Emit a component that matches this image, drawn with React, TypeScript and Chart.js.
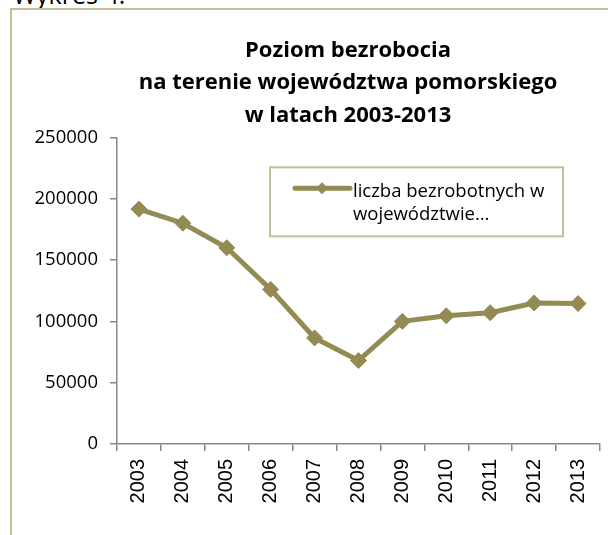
import React, { useEffect, useRef } from "react";
import { Chart, registerables } from "chart.js";

Chart.register(...registerables);

const years = ["2003", "2004", "2005", "2006", "2007", "2008", "2009", "2010", "2011", "2012", "2013"];
const unemployed = [191500, 180000, 160000, 126000, 86500, 68000, 100000, 104500, 107000, 115000, 114500];
const titleLines = ["Poziom bezrobocia", "na terenie województwa pomorskiego", "w latach 2003-2013"];
const seriesLabel = "liczba bezrobotnych w województwie…";
const legendLines = ["liczba bezrobotnych w", "województwie…"];
const yMin = 0;
const yMax = 250000;
const yStep = 50000;

const LINE = "#948A54";
const FRAME = "#C4BD97";
const AXIS = "#878787";

const boxLegend = {
  id: "boxLegend",
  afterDraw(chart: any) {
    const ctx = chart.ctx;
    const ca = chart.chartArea;
    const x0 = ca.left + 153;
    const y0 = ca.top + 30;
    const w = 293;
    const h = 69;
    ctx.save();
    ctx.fillStyle = "#ffffff";
    ctx.fillRect(x0, y0, w, h);
    ctx.lineWidth = 2;
    ctx.strokeStyle = FRAME;
    ctx.strokeRect(x0, y0, w, h);
    const color = chart.data.datasets[0].borderColor;
    const ly = y0 + 21;
    ctx.strokeStyle = color;
    ctx.lineWidth = 5;
    ctx.lineCap = "round";
    ctx.beginPath();
    ctx.moveTo(x0 + 25, ly);
    ctx.lineTo(x0 + 80, ly);
    ctx.stroke();
    const cx = x0 + 52;
    const r = 6;
    ctx.fillStyle = color;
    ctx.beginPath();
    ctx.moveTo(cx, ly - r);
    ctx.lineTo(cx + r, ly);
    ctx.lineTo(cx, ly + r);
    ctx.lineTo(cx - r, ly);
    ctx.closePath();
    ctx.fill();
    ctx.fillStyle = "#000000";
    ctx.font = "18.5px 'Open Sans'";
    ctx.textBaseline = "alphabetic";
    ctx.textAlign = "left";
    legendLines.forEach((t, i) => {
      ctx.fillText(t, x0 + 83, y0 + 30 + i * 23);
    });
    ctx.restore();
  },
};

export default function App() {
  const ref = useRef<HTMLCanvasElement>(null);
  useEffect(() => {
    if (!ref.current) return;
    const chart = new Chart(ref.current, {
      type: "line",
      data: {
        labels: years,
        datasets: [
          {
            label: seriesLabel,
            data: unemployed,
            borderColor: LINE,
            backgroundColor: LINE,
            borderWidth: 5,
            pointStyle: "rectRot",
            pointRadius: 8,
            pointBackgroundColor: LINE,
            pointBorderColor: LINE,
            pointBorderWidth: 1,
            tension: 0,
            yAxisID: "y",
          },
        ],
      },
      options: {
        responsive: false,
        animation: false,
        layout: { padding: { left: 0, right: 0, top: 0, bottom: 0 } },
        plugins: {
          legend: { display: false },
          tooltip: { enabled: false },
          title: {
            display: true,
            text: titleLines,
            color: "#000000",
            font: { family: "'Open Sans'", size: 22, weight: "bold", lineHeight: 1.49 },
            padding: { top: 24, bottom: 5 },
          },
        },
        scales: {
          y: {
            min: yMin,
            max: yMax,
            ticks: {
              stepSize: yStep,
              color: "#000000",
              font: { family: "'Open Sans'", size: 18.5 },
              padding: 12,
              callback: (v: any) => String(v),
            },
            grid: { drawOnChartArea: false, drawTicks: true, tickLength: 7, tickColor: AXIS, lineWidth: 1.5 },
            border: { display: true, color: AXIS, width: 1.5 },
            afterFit: (s: any) => {
              s.width = 105;
            },
          },
          spacer: {
            type: "linear",
            position: "right",
            display: true,
            ticks: { display: false },
            grid: { display: false, drawTicks: false },
            border: { display: false },
            afterFit: (s: any) => {
              s.width = 84;
            },
          },
          x: {
            offset: true,
            ticks: {
              color: "#000000",
              font: { family: "'Liberation Sans'", size: 20 },
              minRotation: 90,
              maxRotation: 90,
              padding: 8,
              autoSkip: false,
            },
            grid: { offset: true, drawOnChartArea: false, drawTicks: true, tickLength: 7, tickColor: AXIS, lineWidth: 1.5 },
            border: { display: true, color: AXIS, width: 1.5 },
            afterFit: (s: any) => {
              s.height = 91;
            },
          },
        },
      },
      plugins: [boxLegend],
    });
    return () => chart.destroy();
  }, []);

  return (
    <div
      style={{
        position: "fixed",
        left: 0,
        top: 0,
        width: 608,
        height: 535,
        overflow: "hidden",
        background: "#ffffff",
      }}
    >
      <div
        style={{
          position: "absolute",
          left: 13,
          top: -23,
          fontFamily: "'Open Sans'",
          fontSize: 25,
          lineHeight: "34px",
          color: "#000000",
          whiteSpace: "nowrap",
        }}
      >
        Wykres 4.
      </div>
      <div
        style={{
          position: "absolute",
          left: 10,
          top: 8,
          width: 672,
          height: 600,
          border: `2px solid ${FRAME}`,
        }}
      />
      <canvas
        ref={ref}
        width={672}
        height={525}
        style={{ position: "absolute", left: 12, top: 10, width: 672, height: 525 }}
      />
    </div>
  );
}
